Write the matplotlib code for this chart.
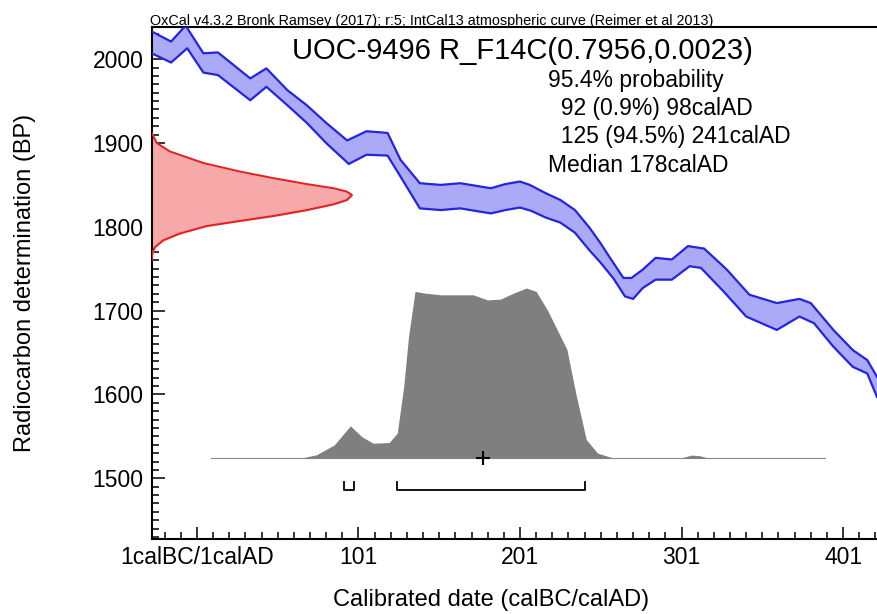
import numpy as np
import matplotlib
matplotlib.use("Agg")
import matplotlib.pyplot as plt
import matplotlib.transforms as mtransforms
from matplotlib.ticker import FixedLocator, MultipleLocator

plt.rcParams['font.family'] = ['Liberation Sans', 'DejaVu Sans']

# IntCal13 1-sigma band, upper and lower edges (calAD, BP)
curve_hi_year = [-27, -15, -6, 5, 14, 34, 44, 57, 69, 81, 94, 106, 119, 127, 139, 152, 164, 183,
                 192, 201, 207, 217, 226, 235, 244, 251, 255, 265, 270, 277, 285, 295, 305, 315,
                 329, 343, 360, 374, 381, 395, 407, 416, 422]
curve_hi_bp = [2033, 2021, 2040, 2007, 2008, 1977, 1989, 1963, 1945, 1924, 1903, 1914, 1912, 1880,
               1852, 1850, 1852, 1846, 1851, 1854, 1850, 1840, 1832, 1820, 1799, 1780, 1768, 1739,
               1739, 1749, 1763, 1761, 1777, 1774, 1749, 1719, 1709, 1714, 1709, 1677, 1653, 1641,
               1621]
curve_lo_year = [-27, -15, -5, 5, 14, 34, 44, 57, 69, 81, 95, 106, 119, 127, 139, 152, 164, 183,
                 192, 201, 208, 217, 226, 235, 244, 251, 259, 266, 271, 277, 285, 295, 306, 313,
                 327, 341, 360, 374, 383, 395, 407, 416, 422]
curve_lo_bp = [2007, 1996, 2013, 1984, 1981, 1951, 1967, 1945, 1924, 1900, 1875, 1886, 1885, 1860,
               1822, 1820, 1822, 1816, 1820, 1823, 1819, 1811, 1805, 1793, 1772, 1757, 1738, 1717,
               1714, 1727, 1737, 1737, 1753, 1751, 1723, 1693, 1677, 1693, 1685, 1657, 1633, 1625,
               1597]

# measured radiocarbon date (relative probability against BP)
meas_bp = [1912, 1900, 1890, 1876, 1866, 1858, 1851, 1846, 1842, 1838, 1832, 1827, 1820, 1813,
           1807, 1801, 1792, 1784, 1776, 1770, 1760]
meas_prob = [0, 0.025, 0.09, 0.26, 0.44, 0.61, 0.775, 0.91, 0.975, 1.0, 0.975, 0.91, 0.775, 0.61,
             0.44, 0.275, 0.14, 0.058, 0.017, 0.004, 0]

# calibrated date (relative probability against calAD)
cal_year = [65, 75, 86, 96, 103, 110, 120, 125, 129, 132, 136, 142, 152, 172, 181, 189, 197, 205,
            211, 218, 230, 236, 242, 249, 259, 300, 307, 312, 318]
cal_prob = [0, 0.02, 0.078, 0.19, 0.127, 0.088, 0.092, 0.147, 0.42, 0.715, 0.98, 0.97, 0.96, 0.96,
            0.93, 0.935, 0.97, 1.0, 0.98, 0.87, 0.64, 0.36, 0.11, 0.03, 0, 0, 0.018, 0.015, 0]
cal_span = [10, 390]

ranges_954 = [(92, 98), (125, 241)]
range_pct = ['0.9%', '94.5%']
median = 178

xtick_vals = [1, 101, 201, 301, 401]
xtick_labels = ['1calBC/1calAD', '101', '201', '301', '401']

W, H = 877, 614
fig = plt.figure(figsize=(W / 100, H / 100), dpi=100)
ax = fig.add_axes([151.7 / W, 75 / H, (W - 151.7) / W, (539 - 27.3) / H])

# calibration curve band
band_x = curve_hi_year + curve_lo_year[::-1]
band_y = curve_hi_bp + curve_lo_bp[::-1]
ax.fill(band_x, band_y, color='#aaaaf6', zorder=2)
ax.plot(curve_hi_year, curve_hi_bp, color='#2525e0', lw=1.6, zorder=3, solid_joinstyle='round')
ax.plot(curve_lo_year, curve_lo_bp, color='#2525e0', lw=1.6, zorder=3, solid_joinstyle='round')

# measurement on the y axis
trans = mtransforms.blended_transform_factory(ax.transAxes, ax.transData)
mx = np.array(meas_prob) * 0.276
ax.fill_betweenx(meas_bp, 0, mx, color='#f7a8a8', transform=trans, zorder=2)
ax.plot(mx, meas_bp, color='#e42020', lw=1.4, transform=trans, zorder=3)

# calibrated distribution
base = 1524
ax.plot(cal_span, [base, base], color='#888888', lw=0.8, zorder=3)
ax.fill_between(cal_year, base, base + np.array(cal_prob) * 203, color='#7f7f7f', lw=0, zorder=3)
ax.plot(median, base, marker='+', ms=10, mew=1.5, color='black', zorder=4)

# 95.4% range brackets
for lo, hi in ranges_954:
    ax.plot([lo, lo, hi, hi], [1496, 1486, 1486, 1496], color='black', lw=1.3, zorder=4)

ax.set_xlim(-27, 422)
ax.set_ylim(1427.6, 2038)

ax.xaxis.set_major_locator(FixedLocator(xtick_vals))
ax.xaxis.set_minor_locator(FixedLocator(np.arange(-19, 422, 10)))
ax.set_xticklabels(xtick_labels)
ax.yaxis.set_major_locator(MultipleLocator(100))
ax.yaxis.set_minor_locator(MultipleLocator(10))
ax.tick_params(which='both', direction='in', width=1.1, colors='black', labelsize=16.5)
ax.tick_params(which='major', length=9)
ax.tick_params(which='minor', length=5)
ax.tick_params(axis='x', pad=5)
ax.tick_params(axis='y', pad=6)
for s in ['left', 'bottom', 'top']:
    ax.spines[s].set_linewidth(1.5)
ax.spines['right'].set_visible(False)

fig.text(25 / W, 1 - 283 / H, 'Radiocarbon determination (BP)', rotation=90,
         ha='center', va='center', fontsize=17)
fig.text(491 / W, 1 - 600 / H, 'Calibrated date (calBC/calAD)', ha='center', va='center',
         fontsize=17)

fig.text(150 / W, 1 - 25 / H,
         'OxCal v4.3.2 Bronk Ramsey (2017); r:5; IntCal13 atmospheric curve (Reimer et al 2013)',
         fontsize=10.4, va='baseline', ha='left')
fig.text(291.7 / W, 1 - 59.3 / H, 'UOC-9496 R_F14C(0.7956,0.0023)', fontsize=21,
         va='baseline', ha='left')

info = ['95.4% probability',
        '  %d (%s) %dcalAD' % (ranges_954[0][0], range_pct[0], ranges_954[0][1]),
        '  %d (%s) %dcalAD' % (ranges_954[1][0], range_pct[1], ranges_954[1][1]),
        'Median %dcalAD' % median]
for i, line in enumerate(info):
    fig.text(548.3 / W, 1 - (86.7 + 28.3 * i) / H, line, fontsize=16.5, va='baseline', ha='left')

fig.savefig('out.png', dpi=100)
